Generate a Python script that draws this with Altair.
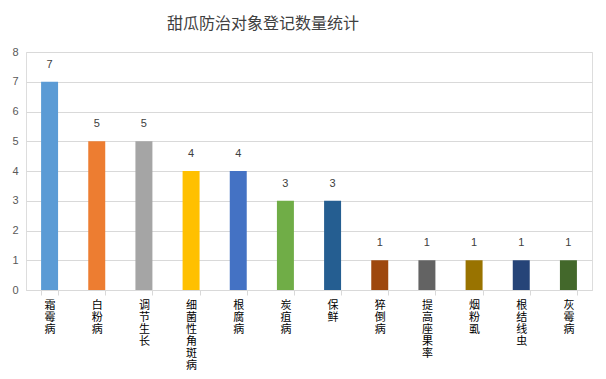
import altair as alt
import pandas as pd

categories = ["霜霉病", "白粉病", "调节生长", "细菌性角斑病", "根腐病", "炭疽病",
              "保鲜", "猝倒病", "提高座果率", "烟粉虱", "根结线虫", "灰霉病"]
values = [7, 5, 5, 4, 4, 3, 3, 1, 1, 1, 1, 1]
colors = ["#5B9BD5", "#ED7D31", "#A5A5A5", "#FFC000", "#4472C4", "#70AD47",
          "#255E91", "#9E480E", "#636363", "#997300", "#264478", "#43682B"]
y_max = 8

df = pd.DataFrame({"cat": categories, "val": values})

x = alt.X("cat:N", sort=categories,
          scale=alt.Scale(paddingInner=0.64, paddingOuter=0.32),
          axis=alt.Axis(title=None, labelAngle=0, labelExpr="split(datum.label, '')",
                        labelFont="Noto Sans CJK SC", labelFontSize=11, labelLineHeight=12,
                        labelColor="#000000", labelBaseline="top", labelPadding=4,
                        domainColor="#D9D9D9", tickColor="#D9D9D9", tickSize=5,
                        tickBand="extent", grid=False, labelOverlap=False))
y = alt.Y("val:Q", scale=alt.Scale(domain=[0, y_max], nice=False),
          axis=alt.Axis(title=None, tickCount=y_max, tickMinStep=1, ticks=False, domain=False,
                        gridColor="#D9D9D9", labelColor="#595959", labelFontSize=11,
                        labelPadding=8, labelFont="Liberation Sans", labelOverlap=False))

base = alt.Chart(df).encode(x=x, y=y)

bars = base.mark_bar().encode(
    color=alt.Color("cat:N", sort=categories,
                    scale=alt.Scale(domain=categories, range=colors), legend=None),
)
labels = base.mark_text(dy=-17, fontSize=11, color="#404040",
                        font="Liberation Sans").encode(text="val:Q")

chart = (bars + labels).properties(
    width=566, height=238,
    padding={"left": 3, "top": 8, "right": 6, "bottom": 0},
    title=alt.TitleParams("甜瓜防治对象登记数量统计", fontSize=16, fontWeight="normal",
                          color="#404040", font="Noto Sans CJK SC", anchor="middle",
                          dx=-46, offset=14),
).configure_view(stroke=None).configure(background="white")

chart.save("out.html", embed_options={"renderer": "svg", "actions": False})
